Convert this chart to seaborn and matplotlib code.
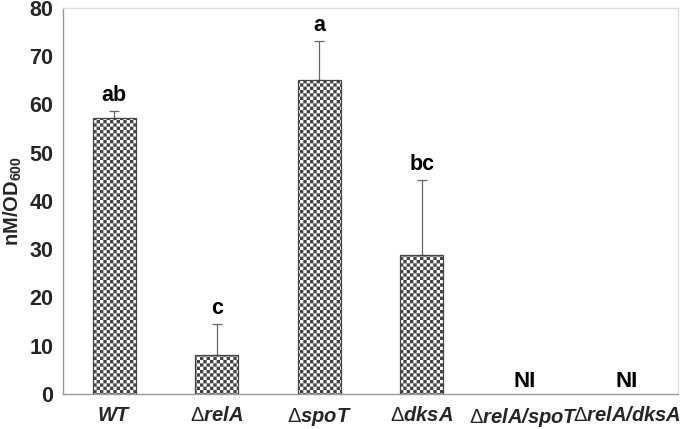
import numpy as np
import pandas as pd
import matplotlib
matplotlib.use("Agg")
import matplotlib.pyplot as plt
import matplotlib.hatch as mhatch
from matplotlib.path import Path
import seaborn as sns

# ---- data ----
categories = ["WT", "relA", "spoT", "dksA", "relA/spoT", "relA/dksA"]
deleted = [False, True, True, True, True, True]
values = [57.2, 8.0, 65.0, 28.7, np.nan, np.nan]
errors = [1.4, 6.6, 8.2, 15.6, np.nan, np.nan]
letters = ["ab", "c", "a", "bc", "NI", "NI"]
yticks = [0, 10, 20, 30, 40, 50, 60, 70, 80]


# ---- custom checkerboard hatch ('*') ----
class Checker(mhatch.HatchPatternBase):
    def __init__(self, hatch, density):
        self.n = 30 if hatch.count('*') > 0 else 0
        self.num_vertices = (self.n * self.n // 2) * 5

    def set_vertices_and_codes(self, vertices, codes):
        n = self.n
        s = 1.0 / n
        i = 0
        for r in range(n):
            for c in range(n):
                if (r + c) % 2 == 0:
                    x0, y0 = c * s, r * s
                    vertices[i:i + 5] = [[x0, y0], [x0 + s, y0], [x0 + s, y0 + s],
                                         [x0, y0 + s], [x0, y0]]
                    codes[i] = Path.MOVETO
                    codes[i + 1:i + 4] = Path.LINETO
                    codes[i + 4] = Path.CLOSEPOLY
                    i += 5


mhatch._hatch_types = [t for t in mhatch._hatch_types if t is not mhatch.Stars] + [Checker]

sns.set_theme(style="white")
plt.rcParams["font.family"] = ["Liberation Sans", "DejaVu Sans"]
plt.rcParams["mathtext.fontset"] = "custom"
plt.rcParams["mathtext.rm"] = "Liberation Sans"
plt.rcParams["mathtext.it"] = "Liberation Sans:italic"
plt.rcParams["mathtext.bf"] = "Liberation Sans:bold:italic"
plt.rcParams["mathtext.sf"] = "Liberation Sans:bold"
plt.rcParams["hatch.linewidth"] = 0.05
plt.rcParams["hatch.color"] = "black"

tick_labels = [
    (r"$\Delta\mathbf{%s}$" % c) if d else (r"$\mathbf{%s}$" % c)
    for c, d in zip(categories, deleted)
]

df = pd.DataFrame({"cat": categories, "val": values})

fig = plt.figure(figsize=(6.8, 4.29), dpi=100)
ax = fig.add_axes([0.0926, 0.0816, 0.9044, 0.9])

sns.barplot(data=df, x="cat", y="val", order=categories, ax=ax, width=0.42,
            color="white", edgecolor="#444444", linewidth=0.9,
            hatch="*", errorbar=None, zorder=3)
for p in ax.patches:
    p.set_hatch("*")

x = np.arange(len(categories))
err_arr = np.array([np.zeros(len(errors)), np.array(errors)])
ax.errorbar(x, values, yerr=err_arr, fmt="none", ecolor="#666666",
            elinewidth=0.9, capsize=3.5, capthick=0.9, zorder=2)

for xi, v, e, lab in zip(x, values, errors, letters):
    if np.isnan(v):
        ypos = 0.4
        fs = 16
    else:
        ypos = v + e + 1.0
        fs = 15.5
    ax.text(xi, ypos, lab, ha="center", va="bottom", fontsize=fs,
            fontweight="bold", color="black")

ax.set_ylim(0, 80)
ax.set_xlim(-0.5, len(categories) - 0.5)
ax.set_yticks(yticks)
ax.set_yticklabels([str(t) for t in yticks], fontsize=15.5, fontweight="bold")
ax.set_xticks(x)
ax.set_xticklabels(tick_labels, fontsize=14.5)
ax.set_xticks(np.arange(len(categories) + 1) - 0.5, minor=True)
ax.tick_params(axis="x", which="major", length=0, pad=9)
ax.tick_params(axis="x", which="minor", length=5, color="#999999", direction="out")
ax.tick_params(axis="y", length=5, color="#999999", direction="out", pad=2)
ax.set_xlabel("")
ax.set_ylabel(r"nM/OD$_{\mathsf{600}}$", fontsize=14.5, fontweight="bold", labelpad=4)

for s in ["left", "bottom"]:
    ax.spines[s].set_color("#999999")
    ax.spines[s].set_linewidth(1.0)
for s in ["top", "right"]:
    ax.spines[s].set_color("#dddddd")
    ax.spines[s].set_linewidth(1.0)

fig.savefig("out.png", dpi=100)
